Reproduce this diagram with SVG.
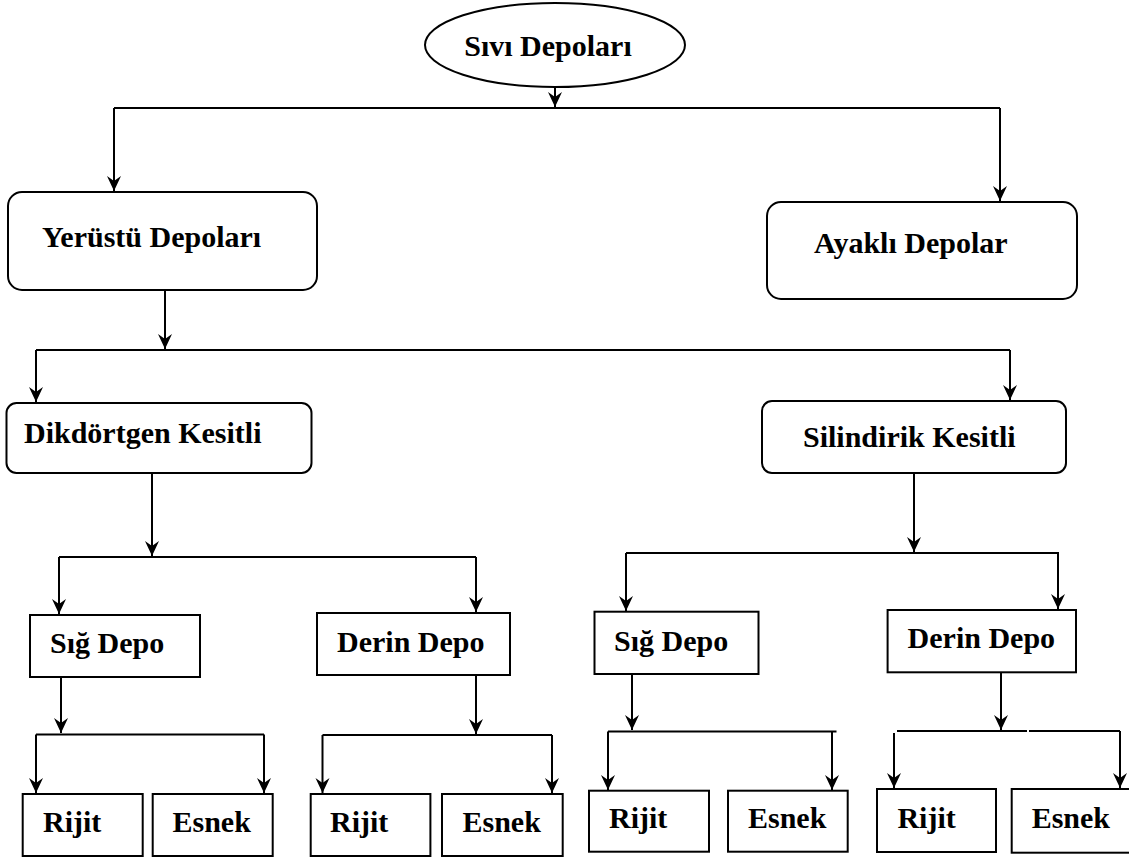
<svg xmlns="http://www.w3.org/2000/svg" width="1129" height="861" viewBox="0 0 1129 861">
<defs>
<style>
.box{fill:#fff;stroke:#000;stroke-width:2}
.lbl{font-family:"Liberation Serif","Times New Roman",serif;font-weight:bold;font-size:30px;fill:#000}
.c{fill:none;stroke:#000;stroke-width:2}
</style>
<marker id="ah" viewBox="-16 -8 17 16" markerWidth="17" markerHeight="16" refX="0" refY="0" orient="auto" markerUnits="userSpaceOnUse">
<path d="M0,0 L-15,-7 L-10,0 L-15,7 Z" fill="#000"/>
</marker>
</defs>
<rect width="1129" height="861" fill="#fff"/>
<g id="connectors">
<path class="c" d="M555,87 L555,107" marker-end="url(#ah)"/>
<path class="c" d="M114,108 L1000,108"/>
<path class="c" d="M114,108 L114,191" marker-end="url(#ah)"/>
<path class="c" d="M1000,108 L1000,201" marker-end="url(#ah)"/>
<path class="c" d="M165,290 L165,349" marker-end="url(#ah)"/>
<path class="c" d="M36,350 L1010,350"/>
<path class="c" d="M36,350 L36,402" marker-end="url(#ah)"/>
<path class="c" d="M1010,350 L1010,400" marker-end="url(#ah)"/>
<path class="c" d="M152,473 L152,556" marker-end="url(#ah)"/>
<path class="c" d="M59,557 L476,557"/>
<path class="c" d="M59,557 L59,614" marker-end="url(#ah)"/>
<path class="c" d="M476,557 L476,612" marker-end="url(#ah)"/>
<path class="c" d="M914,473 L914,552" marker-end="url(#ah)"/>
<path class="c" d="M626,553 L1059,553"/>
<path class="c" d="M626,553 L626,611" marker-end="url(#ah)"/>
<path class="c" d="M1058,553 L1058,609" marker-end="url(#ah)"/>
<path class="c" d="M61,677 L61,733" marker-end="url(#ah)"/>
<path class="c" d="M36,734.5 L264,734.5"/>
<path class="c" d="M36,734.5 L36,793" marker-end="url(#ah)"/>
<path class="c" d="M264,734.5 L264,793" marker-end="url(#ah)"/>
<path class="c" d="M476,675 L476,734" marker-end="url(#ah)"/>
<path class="c" d="M322.5,735 L552,735"/>
<path class="c" d="M322.5,735 L322.5,793" marker-end="url(#ah)"/>
<path class="c" d="M552,735 L552,793" marker-end="url(#ah)"/>
<path class="c" d="M632,674 L632,730" marker-end="url(#ah)"/>
<path class="c" d="M608,731.5 L836.5,731.5"/>
<path class="c" d="M608,731.5 L608,790" marker-end="url(#ah)"/>
<path class="c" d="M832,731.5 L832,790" marker-end="url(#ah)"/>
<path class="c" d="M1001,672 L1001,730" marker-end="url(#ah)"/>
<path class="c" d="M897,731 L1027,731 M1029,731 L1120,731"/>
<path class="c" d="M894,733 L894,788" marker-end="url(#ah)"/>
<path class="c" d="M1120,731 L1120,788" marker-end="url(#ah)"/>
</g>
<g id="n-sivi"><ellipse class="box" cx="555" cy="45" rx="130" ry="42"/><text class="lbl" x="548" y="56" text-anchor="middle">Sıvı Depoları</text></g>
<g id="n-yerustu"><rect class="box" x="8" y="192" width="309" height="98" rx="14"/><text class="lbl" x="42" y="247">Yerüstü Depoları</text></g>
<g id="n-ayakli"><rect class="box" x="767" y="202" width="310" height="97" rx="14"/><text class="lbl" x="814" y="253">Ayaklı Depolar</text></g>
<g id="n-dikdortgen"><rect class="box" x="6.5" y="403" width="305" height="70" rx="10"/><text class="lbl" x="24" y="443">Dikdörtgen Kesitli</text></g>
<g id="n-silindirik"><rect class="box" x="762" y="401" width="304" height="72" rx="10"/><text class="lbl" x="803" y="447">Silindirik Kesitli</text></g>
<g id="n-sig1"><rect class="box" x="30" y="615" width="170" height="62"/><text class="lbl" x="50" y="653">Sığ Depo</text></g>
<g id="n-derin1"><rect class="box" x="317" y="613" width="193" height="62"/><text class="lbl" x="337" y="652">Derin Depo</text></g>
<g id="n-sig2"><rect class="box" x="594.5" y="611.7" width="164" height="62.3"/><text class="lbl" x="614" y="651">Sığ Depo</text></g>
<g id="n-derin2"><rect class="box" x="887.6" y="610" width="188.4" height="62.3"/><text class="lbl" x="907.6" y="648">Derin Depo</text></g>
<g id="n-rijit1"><rect class="box" x="22.7" y="794" width="120" height="62"/><text class="lbl" x="43" y="832">Rijit</text></g>
<g id="n-esnek1"><rect class="box" x="152.7" y="794" width="120" height="62"/><text class="lbl" x="172.5" y="832">Esnek</text></g>
<g id="n-rijit2"><rect class="box" x="310.7" y="794" width="119.7" height="62"/><text class="lbl" x="330" y="832">Rijit</text></g>
<g id="n-esnek2"><rect class="box" x="442" y="794" width="120.7" height="62"/><text class="lbl" x="462.5" y="832">Esnek</text></g>
<g id="n-rijit3"><rect class="box" x="589" y="790.7" width="120" height="61"/><text class="lbl" x="609" y="828">Rijit</text></g>
<g id="n-esnek3"><rect class="box" x="728" y="790.7" width="119.7" height="61"/><text class="lbl" x="748" y="828">Esnek</text></g>
<g id="n-rijit4"><rect class="box" x="877" y="789" width="119" height="63"/><text class="lbl" x="897.4" y="828">Rijit</text></g>
<g id="n-esnek4"><rect class="box" x="1011.7" y="789" width="130" height="63.7"/><text class="lbl" x="1031.7" y="828">Esnek</text></g>
</svg>
